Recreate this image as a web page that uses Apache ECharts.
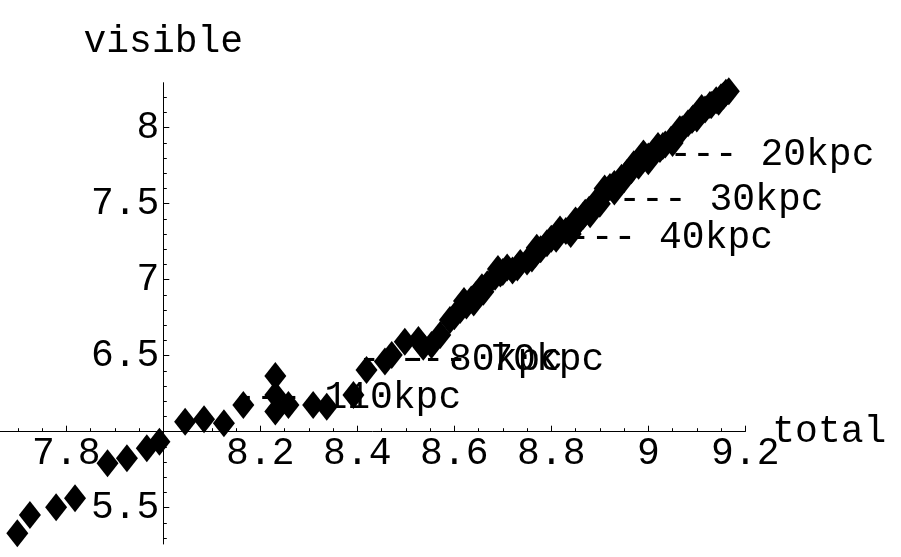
<!DOCTYPE html>
<html>
<head>
<meta charset="utf-8">
<script src="https://cdn.jsdelivr.net/npm/echarts@6/dist/echarts.min.js"></script>
<style>
html,body{margin:0;padding:0;background:#fff;}
#chart{width:901px;height:557px;}
</style>
</head>
<body>
<div id="chart"></div>
<script>
// ---- data ----
const totalVals = [
  7.699, 7.725, 7.779, 7.818, 7.885, 7.925, 7.966, 7.992,
  8.045, 8.084, 8.125, 8.165, 8.231, 8.231, 8.231, 8.258,
  8.309, 8.337, 8.392, 8.419, 8.457, 8.471, 8.498, 8.526,
  8.536, 8.553, 8.571, 8.591,
  8.600, 8.612, 8.625, 8.635, 8.645, 8.657, 8.668, 8.684,
  8.695, 8.709, 8.720, 8.736, 8.750, 8.767, 8.778, 8.791,
  8.800, 8.818, 8.830, 8.845, 8.855, 8.866, 8.878, 8.894,
  8.905, 8.921, 8.930, 8.945, 8.956, 8.965, 8.978, 8.989,
  9.000, 9.012, 9.024, 9.035, 9.047, 9.059, 9.070, 9.082,
  9.092, 9.105, 9.117, 9.127, 9.140, 9.150, 9.160, 9.166,
  8.640, 8.700, 8.760, 8.840, 8.870, 8.900, 8.940, 8.980,
  9.030, 9.090, 9.130, 9.155,
  8.620, 8.660, 8.690, 8.730, 8.770, 8.810, 8.850, 8.880,
  8.910, 8.950, 8.970, 9.000, 9.020, 9.050, 9.065, 9.100,
  9.110, 9.145, 8.990, 8.930
];
const visibleVals = [
  5.332, 5.452, 5.503, 5.562, 5.792, 5.825, 5.891, 5.934,
  6.066, 6.082, 6.055, 6.176, 6.366, 6.241, 6.132, 6.176,
  6.176, 6.164, 6.241, 6.406, 6.461, 6.505, 6.592, 6.603,
  6.559, 6.570, 6.636, 6.735,
  6.760, 6.800, 6.830, 6.870, 6.900, 6.950, 6.970, 7.020,
  7.040, 7.080, 7.060, 7.110, 7.120, 7.170, 7.200, 7.240,
  7.270, 7.330, 7.320, 7.340, 7.380, 7.420, 7.460, 7.520,
  7.550, 7.610, 7.630, 7.670, 7.700, 7.720, 7.760, 7.790,
  7.810, 7.840, 7.860, 7.890, 7.920, 7.950, 7.990, 8.030,
  8.060, 8.090, 8.120, 8.150, 8.180, 8.200, 8.230, 8.240,
  6.850, 7.050, 7.140, 7.300, 7.440, 7.500, 7.640, 7.750,
  7.880, 8.050, 8.150, 8.210,
  6.860, 6.920, 7.070, 7.080, 7.210, 7.270, 7.390, 7.430,
  7.600, 7.660, 7.760, 7.780, 7.880, 7.900, 7.990, 8.060,
  8.130, 8.170, 7.830, 7.580
];
const annText = ['--- 20kpc', '--- 30kpc', '--- 40kpc', '--- 70kpc', '--- 80kpc', '--- 110kpc'];
const annTotal = [9.043, 8.938, 8.834, 8.486, 8.401, 8.144];
const annVisible = [7.820, 7.524, 7.274, 6.472, 6.472, 6.222];

const xMajorTicks = [7.8, 8.2, 8.4, 8.6, 8.8, 9, 9.2];
const xMinorTicks = [7.70, 7.75, 7.85, 7.90, 7.95, 8.05, 8.10, 8.15, 8.25, 8.30, 8.35,
  8.45, 8.50, 8.55, 8.65, 8.70, 8.75, 8.85, 8.90, 8.95, 9.05, 9.10, 9.15];
const yMajorTicks = [5.5, 6.5, 7, 7.5, 8];
const yMinorTicks = [5.3, 5.4, 5.6, 5.7, 5.8, 5.9, 6.1, 6.2, 6.3, 6.4, 6.6, 6.7, 6.8, 6.9,
  7.1, 7.2, 7.3, 7.4, 7.6, 7.7, 7.8, 7.9, 8.1, 8.2];

// ---- chart ----
const FONT = 'Liberation Mono';
const FS = 38;
const X_MIN = 7.6633, X_MAX = 9.2, Y_MIN = 5.261, Y_MAX = 8.296;
const X_OFF = -112.3, Y_OFF = -163.3;

const points = totalVals.map((t, i) => [t, visibleVals[i]]);
const annPoints = annTotal.map((t, i) => [t, annVisible[i]]);

const chart = echarts.init(document.getElementById('chart'), null, {renderer: 'canvas'});
const fmt = v => String(Math.round(v * 10) / 10);

chart.setOption({
  backgroundColor: '#ffffff',
  animation: false,
  grid: {left: 0, right: 155.7, top: 82.7, bottom: 13, containLabel: false},
  xAxis: [
    {
      type: 'value', min: X_MIN, max: X_MAX, position: 'bottom', offset: X_OFF,
      splitLine: {show: false},
      axisLine: {show: true, onZero: false, lineStyle: {color: '#000', width: 1}},
      axisTick: {show: true, inside: true, length: 6, customValues: xMajorTicks, lineStyle: {color: '#000', width: 1}},
      axisLabel: {show: true, customValues: xMajorTicks, formatter: fmt, margin: 3,
        fontFamily: FONT, fontSize: FS, color: '#000'},
      name: 'total', nameLocation: 'end', nameGap: 27, nameMoveOverlap: false,
      nameTextStyle: {fontFamily: FONT, fontSize: FS, color: '#000', verticalAlign: 'middle'}
    },
    {
      type: 'value', min: X_MIN, max: X_MAX, position: 'bottom', offset: X_OFF,
      splitLine: {show: false},
      axisLine: {show: false, onZero: false},
      axisTick: {show: true, inside: true, length: 3.5, customValues: xMinorTicks, lineStyle: {color: '#000', width: 1}},
      axisLabel: {show: false}
    }
  ],
  yAxis: [
    {
      type: 'value', min: Y_MIN, max: Y_MAX, position: 'left', offset: Y_OFF,
      splitLine: {show: false},
      axisLine: {show: true, onZero: false, lineStyle: {color: '#000', width: 1}},
      axisTick: {show: true, inside: true, length: 6, customValues: yMajorTicks, lineStyle: {color: '#000', width: 1}},
      axisLabel: {show: true, customValues: yMajorTicks, formatter: fmt, margin: 4,
        fontFamily: FONT, fontSize: FS, color: '#000'},
      name: 'visible', nameLocation: 'end', nameGap: 22, nameMoveOverlap: false,
      nameTextStyle: {fontFamily: FONT, fontSize: FS, color: '#000', align: 'center'}
    },
    {
      type: 'value', min: Y_MIN, max: Y_MAX, position: 'left', offset: Y_OFF,
      splitLine: {show: false},
      axisLine: {show: false, onZero: false},
      axisTick: {show: true, inside: true, length: 3.5, customValues: yMinorTicks, lineStyle: {color: '#000', width: 1}},
      axisLabel: {show: false}
    }
  ],
  series: [
    {
      type: 'scatter', xAxisIndex: 0, yAxisIndex: 0,
      symbol: 'diamond', symbolSize: [22, 28],
      itemStyle: {color: '#000', opacity: 1},
      data: points, z: 2
    },
    {
      type: 'scatter', xAxisIndex: 0, yAxisIndex: 0,
      symbol: 'circle', symbolSize: 0.1,
      itemStyle: {color: '#000', opacity: 1},
      emphasis: {disabled: true},
      label: {
        show: true, position: 'right', distance: 0, align: 'left', verticalAlign: 'middle',
        formatter: p => annText[p.dataIndex],
        fontFamily: FONT, fontSize: FS, color: '#000', opacity: 1
      },
      labelLayout: {hideOverlap: false},
      data: annPoints, z: 3
    }
  ]
});
</script>
</body>
</html>
